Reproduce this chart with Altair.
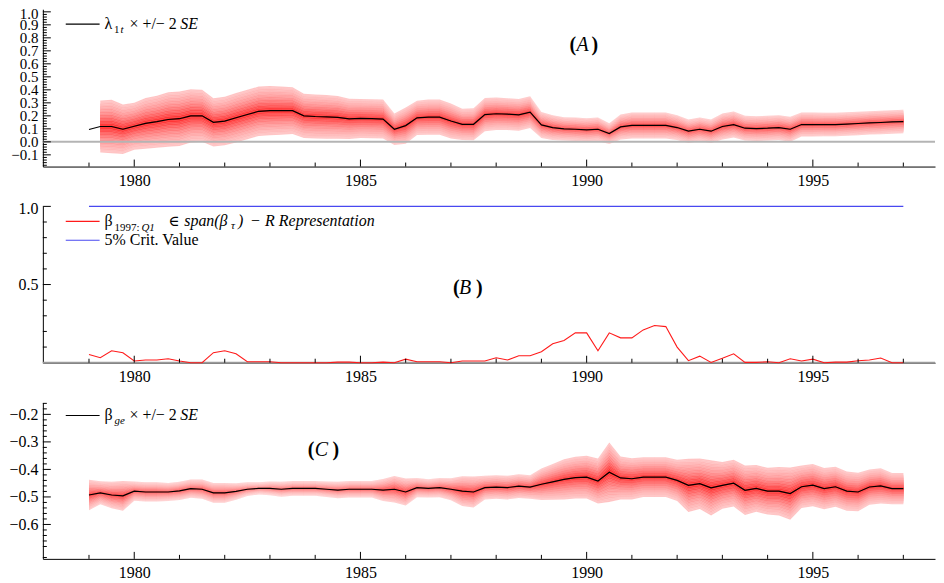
import altair as alt
import pandas as pd

FONT = "Liberation Serif, Times New Roman, DejaVu Serif, serif"

# ---------------- data (quarterly, 1979Q1 .. 1997Q1) ----------------
YEARS = [1979 + 0.25 * i for i in range(73)]

LAMBDA = [
    0.095, 0.118, 0.118, 0.097,
    0.120, 0.142, 0.155, 0.172,
    0.178, 0.200, 0.200, 0.150,
    0.160, 0.185, 0.210, 0.235,
    0.240, 0.240, 0.240, 0.200,
    0.195, 0.192, 0.188, 0.177,
    0.180, 0.178, 0.175, 0.097,
    0.125, 0.185, 0.190, 0.190,
    0.160, 0.135, 0.135, 0.210,
    0.216, 0.213, 0.208, 0.228,
    0.130, 0.110, 0.100, 0.097,
    0.092, 0.097, 0.064, 0.115,
    0.126, 0.126, 0.126, 0.126,
    0.110, 0.082, 0.097, 0.082,
    0.118, 0.133, 0.105, 0.102,
    0.105, 0.110, 0.097, 0.133,
    0.133, 0.133, 0.133, 0.137,
    0.141, 0.146, 0.149, 0.153,
    0.156,
]
# 2*SE half-width of the fan (no band for the first quarter)
LAMBDA_2SE = [
    None, 0.200, 0.205, 0.190,
    0.180, 0.195, 0.200, 0.210,
    0.210, 0.205, 0.200, 0.185,
    0.187, 0.190, 0.190, 0.190,
    0.190, 0.185, 0.180, 0.170,
    0.170, 0.168, 0.165, 0.155,
    0.150, 0.150, 0.150, 0.122,
    0.140, 0.132, 0.135, 0.135,
    0.135, 0.120, 0.123, 0.128,
    0.125, 0.122, 0.122, 0.122,
    0.100, 0.095, 0.090, 0.090,
    0.090, 0.090, 0.080, 0.096,
    0.100, 0.100, 0.100, 0.100,
    0.095, 0.090, 0.090, 0.090,
    0.100, 0.100, 0.095, 0.095,
    0.095, 0.095, 0.097, 0.092,
    0.092, 0.090, 0.090, 0.090,
    0.090, 0.090, 0.090, 0.090,
    0.090,
]

BETA_TEST = [
    0.053, 0.032, 0.076, 0.064,
    0.011, 0.017, 0.017, 0.025,
    0.011, 0.000, 0.000, 0.064,
    0.076, 0.057, 0.006, 0.006,
    0.006, 0.000, 0.000, 0.000,
    0.000, 0.000, 0.004, 0.004,
    0.000, 0.000, 0.004, 0.000,
    0.023, 0.006, 0.006, 0.006,
    0.000, 0.011, 0.011, 0.011,
    0.032, 0.017, 0.045, 0.045,
    0.070, 0.121, 0.142, 0.191,
    0.191, 0.076, 0.191, 0.159,
    0.159, 0.210, 0.238, 0.231,
    0.100, 0.013, 0.042, 0.002,
    0.028, 0.057, 0.002, 0.002,
    0.006, 0.000, 0.025, 0.011,
    0.023, 0.000, 0.004, 0.004,
    0.013, 0.017, 0.030, 0.000,
    0.000,
]
CRIT_5PCT = 1.0

BETA_GE = [
    -0.493, -0.485, -0.493, -0.496,
    -0.479, -0.482, -0.482, -0.482,
    -0.478, -0.470, -0.472, -0.485,
    -0.485, -0.480, -0.472, -0.469,
    -0.469, -0.472, -0.469, -0.469,
    -0.469, -0.472, -0.475, -0.472,
    -0.472, -0.472, -0.475, -0.472,
    -0.482, -0.466, -0.469, -0.466,
    -0.472, -0.479, -0.482, -0.466,
    -0.464, -0.466, -0.461, -0.464,
    -0.454, -0.445, -0.436, -0.430,
    -0.428, -0.442, -0.410, -0.431,
    -0.434, -0.428, -0.428, -0.428,
    -0.440, -0.458, -0.452, -0.467,
    -0.458, -0.450, -0.476, -0.469,
    -0.479, -0.479, -0.488, -0.463,
    -0.457, -0.470, -0.463, -0.479,
    -0.482, -0.464, -0.460, -0.470,
    -0.470,
]
BETA_GE_2SE = [
    0.055, 0.042, 0.048, 0.054,
    0.035, 0.035, 0.035, 0.033,
    0.033, 0.033, 0.035, 0.036,
    0.036, 0.030, 0.025, 0.022,
    0.025, 0.027, 0.027, 0.027,
    0.027, 0.028, 0.030, 0.030,
    0.030, 0.030, 0.040, 0.048,
    0.049, 0.035, 0.033, 0.035,
    0.040, 0.054, 0.056, 0.043,
    0.043, 0.043, 0.043, 0.043,
    0.057, 0.065, 0.073, 0.076,
    0.078, 0.082, 0.108, 0.078,
    0.075, 0.072, 0.072, 0.072,
    0.075, 0.097, 0.092, 0.100,
    0.085, 0.085, 0.090, 0.085,
    0.085, 0.088, 0.095, 0.077,
    0.077, 0.075, 0.073, 0.071,
    0.070, 0.064, 0.064, 0.057,
    0.057,
]

X_LABEL_YEARS = [1980, 1985, 1990, 1995]
X_TICK_YEARS = list(range(1979, 1998))

# ---------------- styling ----------------
W = 896
X_DOMAIN = [1977.98, 1997.7]
XS = alt.Scale(domain=X_DOMAIN, nice=False, zero=False)
FAN_COLORS = ["#ffbdbd", "#ffb1b1", "#ffa3a3", "#ff9494", "#ff8282",
              "#ff6d6d", "#ff5656", "#ff3c3c", "#ff2222"]
RED = "#ff1a1a"
BLUE = "#4848f0"
ONE = pd.DataFrame({"k": [0]})

AX_X = alt.Axis(values=X_LABEL_YEARS, format="d", ticks=False, grid=False,
                labelPadding=6, title=None, domainColor="black", labelOverlap=False)


def y_axis(vals, size=16):
    return alt.Axis(values=vals, format=".1f", ticks=False, grid=False,
                    labelPadding=5, minExtent=32, maxExtent=32, title=None,
                    domainColor="black", labelOverlap=False, labelFontSize=size,
                    labelOffset={"condition": {"test": "datum.value >= 1", "value": 2},
                                 "value": 0})


def txt(text, x, y, size=16, style="normal", weight="normal", color="black"):
    return alt.Chart(ONE).mark_text(
        text=text, font=FONT, fontSize=size, fontStyle=style, fontWeight=weight,
        color=color, align="left", baseline="middle"
    ).encode(x=alt.value(x), y=alt.value(y))


def seg(x1, x2, y, color):
    return alt.Chart(ONE).mark_rule(color=color, strokeWidth=1.2).encode(
        x=alt.value(x1), x2=alt.value(x2), y=alt.value(y))


def y_ticks(vals, length, ys, ay):
    return alt.Chart(pd.DataFrame({"v": vals})).mark_rule(
        color="black", strokeWidth=1).encode(
        y=alt.Y("v:Q", scale=ys, axis=ay), x=alt.value(0), x2=alt.value(length))


def x_ticks(h):
    major = alt.Chart(pd.DataFrame({"t": [t for t in X_TICK_YEARS if t in X_LABEL_YEARS]})
                      ).mark_rule(color="black").encode(
        x=alt.X("t:Q", scale=XS, axis=AX_X), y=alt.value(h), y2=alt.value(h - 7))
    minor = alt.Chart(pd.DataFrame({"t": [t for t in X_TICK_YEARS if t not in X_LABEL_YEARS]})
                      ).mark_rule(color="black").encode(
        x=alt.X("t:Q", scale=XS, axis=AX_X), y=alt.value(h), y2=alt.value(h - 4))
    return [major, minor]


def fan_layers(center, half, ys, ay):
    base = pd.DataFrame({"t": YEARS, "c": center, "hw": half}).dropna()
    n = len(FAN_COLORS)
    layers = []
    stripes = []
    for k in range(n):
        f = (n - k) / n
        d = base.assign(lo=base.c - f * base.hw, hi=base.c + f * base.hw)
        layers.append(alt.Chart(d).mark_area(color=FAN_COLORS[k], opacity=1).encode(
            x=alt.X("t:Q", scale=XS, axis=AX_X),
            y=alt.Y("lo:Q", scale=ys, axis=ay), y2="hi:Q"))
        for sgn in (-1, 1):
            for sub in (0.0, 0.5):
                ff = f - sub / n
                stripes.append(base.assign(v=base.c + sgn * ff * base.hw,
                                           lvl=f"{k}_{sgn}_{sub}"))
    sd = pd.concat(stripes)
    layers.append(alt.Chart(sd).mark_line(color="white", strokeWidth=0.6, opacity=0.35).encode(
        x=alt.X("t:Q", scale=XS, axis=AX_X),
        y=alt.Y("v:Q", scale=ys, axis=ay), detail="lvl:N"))
    return layers


# ---------------- panel A ----------------
HA = 158
YS_A = alt.Scale(domain=[-0.19, 1.02], nice=False, zero=False)
a_major = [round(-0.1 + 0.1 * i, 1) for i in range(12)]
a_minor = [round(-0.18 + 0.02 * i, 2) for i in range(60) if (i + 1) % 5 != 0]
AY_A = y_axis(a_major, size=15)
dfa = pd.DataFrame({"t": YEARS, "v": LAMBDA})

a_layers = fan_layers(LAMBDA, LAMBDA_2SE, YS_A, AY_A)
a_layers += [
    alt.Chart(ONE).mark_rule(color="#b4b4b4", strokeWidth=2).encode(
        y=alt.Y(datum=0, scale=YS_A, axis=AY_A)),
    alt.Chart(dfa).mark_line(color="black", strokeWidth=1.2).encode(
        x=alt.X("t:Q", scale=XS, axis=AX_X),
        y=alt.Y("v:Q", scale=YS_A, axis=AY_A)),
    y_ticks(a_major, 8, YS_A, AY_A), y_ticks(a_minor, 4, YS_A, AY_A),
    *x_ticks(HA),
    seg(23, 57, 15, "black"),
    txt("λ", 62, 15), txt("1", 71.5, 21, size=11), txt("t", 78, 21, size=11, style="italic"),
    txt("× +/− 2", 87, 15), txt("SE", 138, 15, style="italic"),
    txt("(", 529, 36, size=20, weight="bold"), txt("A", 536, 36, size=20, style="italic"),
    txt(")", 551, 36, size=20, weight="bold"),
]
panel_a = alt.layer(*a_layers).properties(width=W, height=HA)

# ---------------- panel B ----------------
HB = 157
YS_B = alt.Scale(domain=[0, 1.0], nice=False, zero=False)
AY_B = y_axis([0.5, 1.0])
dfb = pd.DataFrame({"t": YEARS, "v": BETA_TEST, "crit": [CRIT_5PCT] * len(YEARS)})
b_layers = [
    alt.Chart(dfb).mark_line(color=BLUE, strokeWidth=1.2).encode(
        x=alt.X("t:Q", scale=XS, axis=AX_X),
        y=alt.Y("crit:Q", scale=YS_B, axis=AY_B)),
    alt.Chart(ONE).mark_rule(color="#9a9a9a", strokeWidth=2).encode(
        y=alt.Y(datum=0, scale=YS_B, axis=AY_B)),
    alt.Chart(dfb).mark_line(color=RED, strokeWidth=1.1).encode(
        x=alt.X("t:Q", scale=XS, axis=AX_X), y=alt.Y("v:Q", scale=YS_B, axis=AY_B)),
    y_ticks([0.5, 1.0], 8, YS_B, AY_B),
    y_ticks([0.1, 0.2, 0.3, 0.4, 0.6, 0.7, 0.8, 0.9], 4, YS_B, AY_B),
    *x_ticks(HB),
    seg(23, 57, 15, RED), seg(23, 57, 34, BLUE),
    txt("β", 62, 15), txt("1997:", 72, 22, size=11), txt("Q1", 99, 22, size=11, style="italic"),
    txt("∈", 126, 15, size=15), txt("span(β", 142, 15, style="italic"),
    txt("τ", 189, 20, size=11, style="italic"), txt(")", 196, 15, style="italic"),
    txt("−", 209, 15), txt("R", 223, 15, style="italic"),
    txt("Representation", 237, 15, style="italic"),
    txt("5% Crit. Value", 62, 34),
    txt("(", 412, 82, size=20, weight="bold"), txt("B", 418, 82, size=20, style="italic"),
    txt(")", 435, 82, size=20, weight="bold"),
]
panel_b = alt.layer(*b_layers).properties(width=W, height=HB)

# ---------------- panel C ----------------
HC = 157
YS_C = alt.Scale(domain=[-0.725, -0.157], nice=False, zero=False)
c_major = [-0.6, -0.5, -0.4, -0.3, -0.2]
c_minor = [round(-0.72 + 0.02 * i, 2) for i in range(29) if i % 5 != 1]
AY_C = y_axis(c_major)
dfc = pd.DataFrame({"t": YEARS, "v": BETA_GE})
c_layers = fan_layers(BETA_GE, BETA_GE_2SE, YS_C, AY_C)
c_layers += [
    alt.Chart(dfc).mark_line(color="black", strokeWidth=1.2).encode(
        x=alt.X("t:Q", scale=XS, axis=AX_X),
        y=alt.Y("v:Q", scale=YS_C, axis=AY_C)),
    y_ticks(c_major, 8, YS_C, AY_C), y_ticks(c_minor, 4, YS_C, AY_C),
    *x_ticks(HC),
    seg(23, 57, 13, "black"),
    txt("β", 62, 13), txt("ge", 72, 19, size=11, style="italic"),
    txt("× +/− 2", 87, 13), txt("SE", 138, 13, style="italic"),
    txt("(", 266, 48, size=20, weight="bold"), txt("C", 273, 48, size=20, style="italic"),
    txt(")", 291, 48, size=20, weight="bold"),
]
panel_c = alt.layer(*c_layers).properties(width=W, height=HC)

chart = alt.vconcat(panel_a, panel_b, panel_c, spacing=40, bounds="flush").properties(
    padding={"left": 0, "top": -3, "right": 0, "bottom": 0}
).configure_view(stroke=None).configure_axis(
    labelFont=FONT, labelFontSize=16, labelColor="black", domainWidth=1
)

chart.save("out.html", embed_options={"renderer": "svg", "actions": False})
